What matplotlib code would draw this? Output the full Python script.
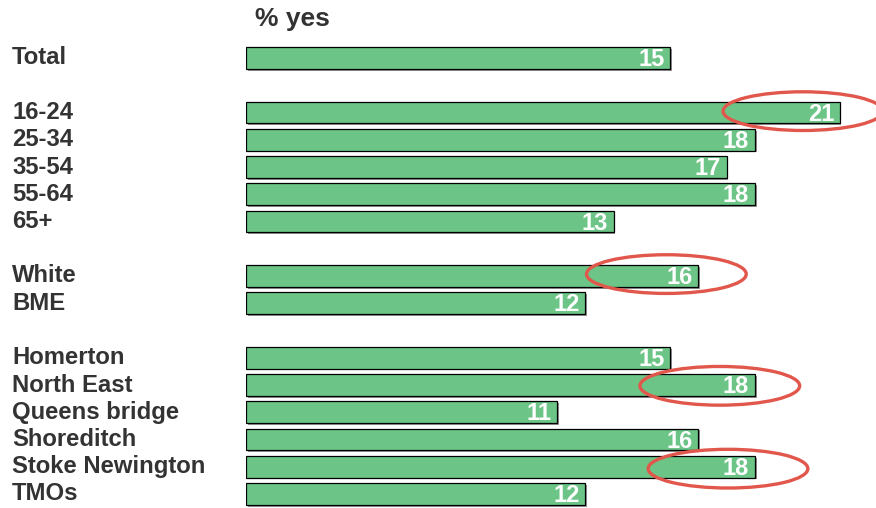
import matplotlib
matplotlib.use("Agg")
import matplotlib.pyplot as plt
from matplotlib import patheffects
from matplotlib.patches import Ellipse
from matplotlib.transforms import blended_transform_factory

categories = ["Total", "16-24", "25-34", "35-54", "55-64", "65+", "White", "BME",
              "Homerton", "North East", "Queens bridge", "Shoreditch",
              "Stoke Newington", "TMOs"]
values = [15, 21, 18, 17, 18, 13, 16, 12, 15, 18, 11, 16, 18, 12]
groups = [0, 1, 1, 1, 1, 1, 2, 2, 3, 3, 3, 3, 3, 3]
title = "% yes"
highlighted = ["16-24", "White", "North East", "Stoke Newington"]
# ellipse centre offsets (x in value units, y in slot units) relative to bar end
ellipse_offsets = {"16-24": (-1.3, -0.05), "White": (-1.13, -0.07),
                   "North East": (-1.24, 0.03), "Stoke Newington": (-0.95, 0.07)}

# slot positions: a blank slot between groups
positions = []
slot = 0
prev = groups[0]
for g in groups:
    if g != prev:
        slot += 1
        prev = g
    positions.append(slot)
    slot += 1

W, H = 876, 508
fig = plt.figure(figsize=(W / 100, H / 100), dpi=100)
plt.rcParams['font.family'] = ['Liberation Sans', 'DejaVu Sans']

px_per_unit = 28.27
px_per_slot = 27.25
x0_px = 246
y0_px = 58
ax = fig.add_axes([x0_px / W, 0, 1 - x0_px / W, 1])
ax.set_xlim(0, (W - x0_px) / px_per_unit)
ax.set_ylim((H - y0_px) / px_per_slot, -y0_px / px_per_slot)
ax.axis("off")

bar_color = "#6cc586"
shadow = [patheffects.SimplePatchShadow(offset=(1.3, -1.3), shadow_rgbFace="#666666", alpha=0.7),
          patheffects.Normal()]
bars = ax.barh(positions, values, height=0.8, color=bar_color, edgecolor="black",
               linewidth=0.9, zorder=2)
for b in bars:
    b.set_path_effects(shadow)

for p, v in zip(positions, values):
    ax.text(v - 0.2, p + 0.06, f"{v}", ha="right", va="center", color="white",
            fontsize=17, fontweight="bold", zorder=3)

lab_tr = blended_transform_factory(fig.transFigure, ax.transData)
for p, c in zip(positions, categories):
    ax.text(12 / W, p, c, transform=lab_tr, ha="left", va="center",
            fontsize=17.2, fontweight="bold", color="#333333")

fig.text(292 / W, 1 - 19 / H, title, ha="center", va="center", fontsize=19,
         fontweight="bold", color="#333333")

# red ellipses around highlighted values
for c in highlighted:
    i = categories.index(c)
    dx, dy = ellipse_offsets[c]
    e = Ellipse((values[i] + dx, positions[i] + dy), width=5.65, height=1.42,
                fill=False, edgecolor="#e2574c", linewidth=2.4, zorder=4, clip_on=False)
    ax.add_patch(e)

fig.savefig("out.png", dpi=100)
